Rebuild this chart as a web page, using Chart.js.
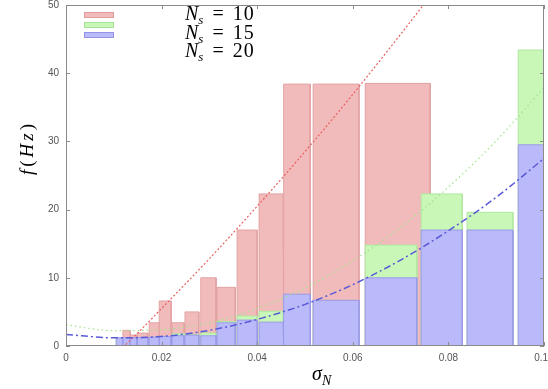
<!DOCTYPE html>
<html>
<head>
<meta charset="utf-8">
<script src="https://cdn.jsdelivr.net/npm/chart.js@4.4.1/dist/chart.umd.min.js"></script>
<style>
  body { margin: 0; background: #fff; }
  #wrap { position: relative; width: 548px; height: 389px; }
  .tex { position: absolute; font-family: "Liberation Serif", "Times New Roman", serif; color: #000; white-space: nowrap; }
  .tex i { font-style: italic; }
  .key { left: 185px; font-size: 20px; line-height: 18px; }
  .key sub { font-size: 13px; font-style: italic; vertical-align: -4px; line-height: 0; }
  .key .eq { margin: 0 9px; }
  .key .num { letter-spacing: 1px; }
  #xt { left: 312px; top: 362px; font-size: 20px; }
  #xt sub { font-size: 14px; font-style: italic; vertical-align: -5px; line-height: 0; }
  #yt { left: -13px; top: 136px; width: 80px; height: 24px; line-height: 24px; text-align: center;
        font-size: 19px; letter-spacing: 3px; transform: rotate(-90deg); }
</style>
</head>
<body>
<div id="wrap">
  <canvas id="chart" width="548" height="389"></canvas>
  <div class="tex key" style="top:4px"><i>N</i><sub>s</sub><span class="eq">=</span><span class="num">10</span></div>
  <div class="tex key" style="top:23px"><i>N</i><sub>s</sub><span class="eq">=</span><span class="num">15</span></div>
  <div class="tex key" style="top:41px"><i>N</i><sub>s</sub><span class="eq">=</span><span class="num">20</span></div>
  <div class="tex" id="xt"><i>σ</i><sub>N</sub></div>
  <div class="tex" id="yt"><i>f</i>(<i>Hz</i>)</div>
</div>
<script>
// N_s = 10 boxes (red)
const redStart = [0.0119, 0.0134, 0.0149, 0.0174, 0.0195, 0.0222, 0.0249, 0.0282, 0.0316, 0.0358, 0.0404, 0.0456, 0.0517, 0.0626];
const redEnd   = [0.0134, 0.0148, 0.0172, 0.0195, 0.0220, 0.0247, 0.0278, 0.0314, 0.0354, 0.0400, 0.0454, 0.0511, 0.0613, 0.0762];
const redFreq  = [2.3, 1.6, 1.9, 3.4, 6.6, 3.4, 5.0, 10.0, 8.6, 17.0, 22.3, 38.4, 38.4, 38.5];

// N_s = 15 and N_s = 20 share the same bins
const binStart = [0.0105, 0.0119, 0.0134, 0.0149, 0.0174, 0.0195, 0.0222, 0.0249, 0.0282, 0.0316, 0.0358, 0.0404, 0.0456, 0.0517, 0.0626, 0.0743, 0.0839, 0.0946];
const binEnd   = [0.0119, 0.0134, 0.0148, 0.0172, 0.0195, 0.0220, 0.0247, 0.0278, 0.0314, 0.0354, 0.0400, 0.0454, 0.0511, 0.0613, 0.0734, 0.0829, 0.0935, 0.1000];
const greenFreq = [1.0, 1.0, 1.0, 1.0, 1.2, 1.3, 1.8, 1.7, 1.9, 3.6, 4.4, 5.1, 6.5, 6.0, 14.8, 22.3, 19.6, 43.4];
const blueFreq  = [1.2, 1.2, 1.2, 1.2, 1.3, 1.4, 1.5, 1.6, 1.5, 3.4, 3.8, 3.5, 7.6, 6.7, 10.0, 17.0, 17.0, 29.5];

// fitted curves
const redCurveX = [0.0125, 0.015, 0.02, 0.03, 0.04, 0.05, 0.06, 0.07, 0.08];
const redCurveY = [0.2, 1.9, 5.5, 12.8, 20.5, 28.5, 36.9, 45.7, 54.8];
const curveX = [0, 0.01, 0.02, 0.03, 0.04, 0.05, 0.06, 0.07, 0.08, 0.09, 0.1];
const greenCurveY = [3.1, 2.25, 2.4, 3.4, 5.5, 8.5, 12.5, 17.4, 23.3, 30.1, 37.9];
const blueCurveY  = [1.7, 1.2, 1.4, 2.3, 3.9, 6.1, 9.0, 12.6, 16.9, 21.8, 27.5];

const xTickStep = 0.02;
const yTickStep = 10;

function boxes(starts, ends, heights) {
    const pts = [];
    starts.forEach((s, i) => {
        pts.push({x: s, y: 0}, {x: s, y: heights[i]}, {x: ends[i], y: heights[i]}, {x: ends[i], y: 0});
    });
    return pts;
}

function curve(xs, ys) {
    return xs.map((x, i) => ({x: x, y: ys[i]}));
}

const boxStyle = (fill, line, order) => ({
    fill: 'origin', backgroundColor: fill, borderColor: line, borderWidth: 1,
    pointRadius: 0, tension: 0, order: order
});

const lineStyle = (color, dash, width, order) => ({
    fill: false, borderColor: color, borderDash: dash, borderWidth: width,
    pointRadius: 0, cubicInterpolationMode: 'monotone', order: order
});

// frame, inward ticks and key swatches like gnuplot
const framePlugin = {
    id: 'frame',
    afterDatasetsDraw(chart) {
        const {ctx, chartArea: a, scales} = chart;
        ctx.save();
        ctx.strokeStyle = '#8a8a8a';
        ctx.lineWidth = 1;
        ctx.strokeRect(a.left + 0.5, a.top + 0.5, a.right - a.left - 1, a.bottom - a.top - 1);
        ctx.beginPath();
        scales.x.ticks.forEach(t => {
            const px = Math.round(scales.x.getPixelForValue(t.value)) + 0.5;
            ctx.moveTo(px, a.bottom); ctx.lineTo(px, a.bottom - 4);
            ctx.moveTo(px, a.top); ctx.lineTo(px, a.top + 4);
        });
        scales.y.ticks.forEach(t => {
            const py = Math.round(scales.y.getPixelForValue(t.value)) + 0.5;
            ctx.moveTo(a.left, py); ctx.lineTo(a.left + 4, py);
            ctx.moveTo(a.right, py); ctx.lineTo(a.right - 4, py);
        });
        ctx.stroke();

        const sw = [['#f1bbbb', '#e09a9a'], ['#c8f7b8', '#a8e498'], ['#babafa', '#9494e6']];
        sw.forEach((c, i) => {
            ctx.fillStyle = c[0];
            ctx.strokeStyle = c[1];
            ctx.fillRect(84, 12 + i * 10, 30, 6);
            ctx.strokeRect(84.5, 12.5 + i * 10, 29, 5);
        });
        ctx.restore();
    }
};

new Chart(document.getElementById('chart'), {
    type: 'line',
    data: {
        datasets: [
            Object.assign({label: 'N_s = 10', data: boxes(redStart, redEnd, redFreq)}, boxStyle('#f1bbbb', '#e2a3a3', 6)),
            Object.assign({label: 'N_s = 15', data: boxes(binStart, binEnd, greenFreq)}, boxStyle('#c8f7b8', '#b0e8a0', 5)),
            Object.assign({label: 'N_s = 20', data: boxes(binStart, binEnd, blueFreq)}, boxStyle('#babafa', '#9a9ae8', 4)),
            Object.assign({label: 'fit 10', data: curve(redCurveX, redCurveY)}, lineStyle('#e86060', [2, 2], 1.2, 3)),
            Object.assign({label: 'fit 15', data: curve(curveX, greenCurveY)}, lineStyle('#a0e488', [1.5, 3], 1.2, 2)),
            Object.assign({label: 'fit 20', data: curve(curveX, blueCurveY)}, lineStyle('#5a5ad8', [7, 3, 2, 3], 1.5, 1))
        ]
    },
    options: {
        responsive: false,
        animation: false,
        layout: {padding: {top: 5, right: 4, left: 0, bottom: 0}},
        plugins: {legend: {display: false}, tooltip: {enabled: false}},
        scales: {
            x: {
                type: 'linear', min: 0, max: 0.1,
                grid: {display: false, drawTicks: false},
                border: {display: false},
                ticks: {stepSize: xTickStep, padding: 6, color: '#555', font: {family: 'Liberation Sans', size: 10}, maxRotation: 0},
                afterFit(s) { s.height = 43; s.paddingLeft = 0; s.paddingRight = 0; }
            },
            y: {
                min: 0, max: 50,
                grid: {display: false, drawTicks: false},
                border: {display: false},
                ticks: {stepSize: yTickStep, padding: 7, color: '#555', font: {family: 'Liberation Sans', size: 10}},
                afterFit(s) { s.width = 66; s.paddingTop = 0; s.paddingBottom = 0; }
            }
        }
    },
    plugins: [framePlugin]
});
</script>
</body>
</html>
